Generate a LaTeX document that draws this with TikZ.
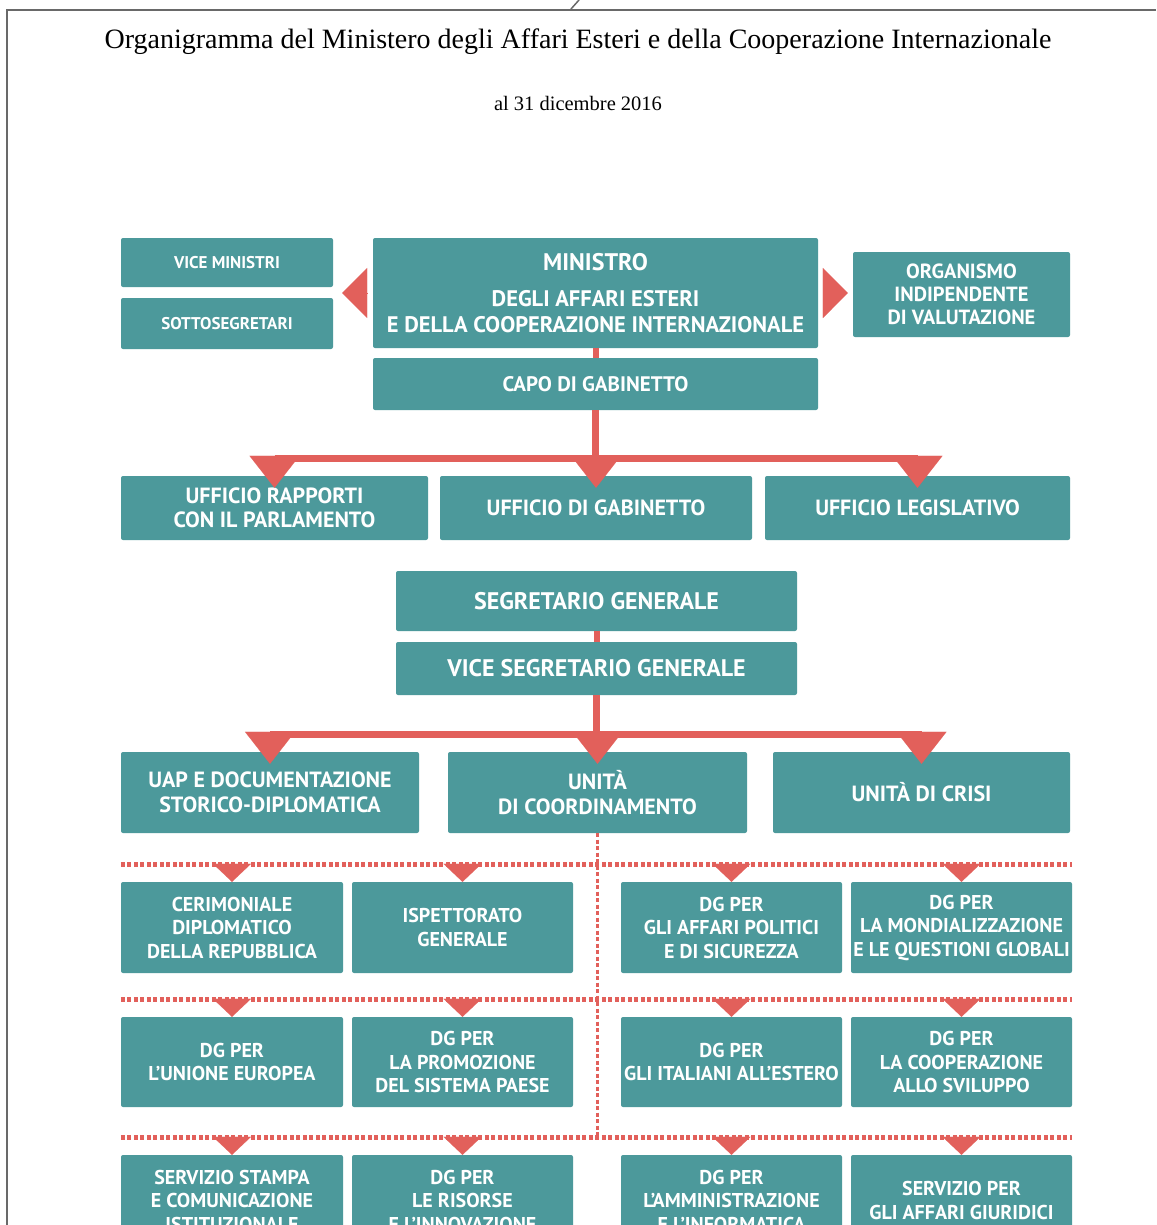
\documentclass[tikz,border=0pt]{standalone}
\usepackage{fontspec}
\setmainfont{Liberation Serif}
\newfontfamily\boxfont{PT Sans}
\usetikzlibrary{arrows.meta}

\definecolor{boxteal}{RGB}{76,153,155}
\definecolor{linkred}{RGB}{226,96,91}
\definecolor{framegray}{RGB}{105,105,105}

\tikzset{
  box/.style={fill=boxteal, rounded corners=2pt, text=white, align=center, inner sep=0pt,
    font=\boxfont\bfseries\fontsize{20}{23.5}\selectfont},
  bigbox/.style={box, font=\boxfont\bfseries\fontsize{22}{24.5}\selectfont},
  bar/.style={draw=linkred, line width=7pt},
  down/.style={draw=linkred, line width=0.1pt, -{Triangle[width=50pt,length=32pt]}},
  sidetri/.style={draw=linkred, line width=0.1pt, -{Triangle[width=50pt,length=25pt]}},
  dotline/.style={draw=linkred, line width=5pt, dash pattern=on 4pt off 2.5pt},
  smalldown/.style={draw=linkred, line width=0.1pt, -{Triangle[width=38pt,length=18pt]}},
}

\begin{document}
\begin{tikzpicture}[x=1pt,y=-1pt]
\useasboundingbox (0,0) rectangle (1156,1225);
\fill[white] (0,0) rectangle (1156,1225);

% frame and title
\draw[framegray, line width=2.5pt] (1156,10) -- (7,10) -- (7,1225);
\draw[framegray, line width=1.5pt] (571,9) -- (579,0);
\draw (578,42) node (01) {\fontsize{28}{32}\selectfont Organigramma del Ministero degli Affari Esteri e della Cooperazione Internazionale};
\draw (578,103) node (02) {\fontsize{20.5}{26}\selectfont al 31 dicembre 2016};

% ministro
\draw (227,262.5) node (11) [box, minimum width=212pt, minimum height=49pt, font=\boxfont\bfseries\fontsize{17}{20}\selectfont] {VICE MINISTRI};
\draw (227,323.5) node (12) [box, minimum width=212pt, minimum height=51pt, font=\boxfont\bfseries\fontsize{17}{20}\selectfont] {SOTTOSEGRETARI};
\draw (595.5,293) node (13) [box, minimum width=445pt, minimum height=110pt, font=\boxfont\bfseries\fontsize{22.5}{26}\selectfont]
  {{\fontsize{24}{26}\selectfont MINISTRO}\\[10pt]DEGLI AFFARI ESTERI\\E DELLA COOPERAZIONE INTERNAZIONALE};
\draw (961.5,294.5) node (14) [box, minimum width=217pt, minimum height=85pt, font=\boxfont\bfseries\fontsize{20.5}{23}\selectfont]
  {ORGANISMO\\INDIPENDENTE\\DI VALUTAZIONE};
\draw[sidetri, shorten <=6pt, shorten >=9pt] (13.west) -- (13.west -| 11.east);
\draw[sidetri, shorten <=6pt, shorten >=5pt] (13.east) -- (13.east -| 14.west);

\draw (595.5,384) node (21) [box, minimum width=445pt, minimum height=52pt, font=\boxfont\bfseries\fontsize{21}{26}\selectfont] {CAPO DI GABINETTO};
\draw[bar, line width=6pt] (13) -- (21);

% uffici
\draw (274.5,508) node (31) [bigbox, minimum width=307pt, minimum height=64pt] {UFFICIO RAPPORTI\\CON IL PARLAMENTO};
\draw (596,508) node (32) [bigbox, minimum width=312pt, minimum height=64pt] {UFFICIO DI GABINETTO};
\draw (917.5,508) node (33) [bigbox, minimum width=305pt, minimum height=64pt] {UFFICIO LEGISLATIVO};
\coordinate (b1) at (595.5,458);
\draw[bar] (21.south) -- (b1);
\draw[bar] (b1 -| 31) -- (b1 -| 33);
\draw[down] (b1 -| 31) -- ([yshift=-12pt]31.north);
\draw[down] (b1 -| 32) -- ([yshift=-12pt]32.north);
\draw[down] (b1 -| 33) -- ([yshift=-12pt]33.north);

% segretario generale
\draw (596.5,601) node (41) [box, minimum width=401pt, minimum height=60pt, font=\boxfont\bfseries\fontsize{24}{28}\selectfont] {SEGRETARIO GENERALE};
\draw (596.5,668.5) node (42) [box, minimum width=401pt, minimum height=53pt, font=\boxfont\bfseries\fontsize{24}{28}\selectfont] {VICE SEGRETARIO GENERALE};
\draw[bar, line width=6pt] (41) -- (42);

% unita
\draw (270,792.5) node (51) [bigbox, minimum width=298pt, minimum height=81pt] {UAP E DOCUMENTAZIONE\\STORICO-DIPLOMATICA};
\draw (597.5,792.5) node (52) [bigbox, minimum width=299pt, minimum height=81pt] {UNITÀ\\DI COORDINAMENTO};
\draw (921.5,792.5) node (53) [bigbox, minimum width=297pt, minimum height=81pt] {UNITÀ DI CRISI};
\coordinate (b2) at (596.5,734);
\draw[bar] (42.south) -- (b2);
\draw[bar] (b2 -| 51) -- (b2 -| 53);
\draw[down] (b2 -| 51) -- ([yshift=-12pt]51.north);
\draw[down] (b2 -| 52) -- ([yshift=-12pt]52.north);
\draw[down] (b2 -| 53) -- ([yshift=-12pt]53.north);

% direzioni generali
\draw (232,927.5) node (61) [box, minimum width=222pt, minimum height=91pt] {CERIMONIALE\\DIPLOMATICO\\DELLA REPUBBLICA};
\draw (462.5,927.5) node (62) [box, minimum width=221pt, minimum height=91pt] {ISPETTORATO\\GENERALE};
\draw (731.5,927.5) node (63) [box, minimum width=221pt, minimum height=91pt] {DG PER\\GLI AFFARI POLITICI\\E DI SICUREZZA};
\draw (961.5,927.5) node (64) [box, minimum width=221pt, minimum height=91pt] {DG PER\\LA MONDIALIZZAZIONE\\E LE QUESTIONI GLOBALI};

\draw (232,1062) node (71) [box, minimum width=222pt, minimum height=90pt] {DG PER\\L’UNIONE EUROPEA};
\draw (462.5,1062) node (72) [box, minimum width=221pt, minimum height=90pt] {DG PER\\LA PROMOZIONE\\DEL SISTEMA PAESE};
\draw (731.5,1062) node (73) [box, minimum width=221pt, minimum height=90pt] {DG PER\\GLI ITALIANI ALL’ESTERO};
\draw (961.5,1062) node (74) [box, minimum width=221pt, minimum height=90pt] {DG PER\\LA COOPERAZIONE\\ALLO SVILUPPO};

\draw (232,1200.5) node (81) [box, minimum width=222pt, minimum height=91pt] {SERVIZIO STAMPA\\E COMUNICAZIONE\\ISTITUZIONALE};
\draw (462.5,1200.5) node (82) [box, minimum width=221pt, minimum height=91pt] {DG PER\\LE RISORSE\\E L’INNOVAZIONE};
\draw (731.5,1200.5) node (83) [box, minimum width=221pt, minimum height=91pt] {DG PER\\L’AMMINISTRAZIONE\\E L’INFORMATICA};
\draw (961.5,1200.5) node (84) [box, minimum width=221pt, minimum height=91pt] {SERVIZIO PER\\GLI AFFARI GIURIDICI};

\coordinate (d1) at (596,864);
\coordinate (d2) at (596,999);
\coordinate (d3) at (596,1137);
\draw[dotline, line width=3.5pt] (52.south) -- (52.south |- d3);
\draw[dotline] (61.west |- d1) -- (64.east |- d1);
\draw[dotline] (71.west |- d2) -- (74.east |- d2);
\draw[dotline] (81.west |- d3) -- (84.east |- d3);
\draw[smalldown] (61 |- d1) -- (61.north);
\draw[smalldown] (62 |- d1) -- (62.north);
\draw[smalldown] (63 |- d1) -- (63.north);
\draw[smalldown] (64 |- d1) -- (64.north);
\draw[smalldown] (71 |- d2) -- (71.north);
\draw[smalldown] (72 |- d2) -- (72.north);
\draw[smalldown] (73 |- d2) -- (73.north);
\draw[smalldown] (74 |- d2) -- (74.north);
\draw[smalldown] (81 |- d3) -- (81.north);
\draw[smalldown] (82 |- d3) -- (82.north);
\draw[smalldown] (83 |- d3) -- (83.north);
\draw[smalldown] (84 |- d3) -- (84.north);
\end{tikzpicture}
\end{document}
